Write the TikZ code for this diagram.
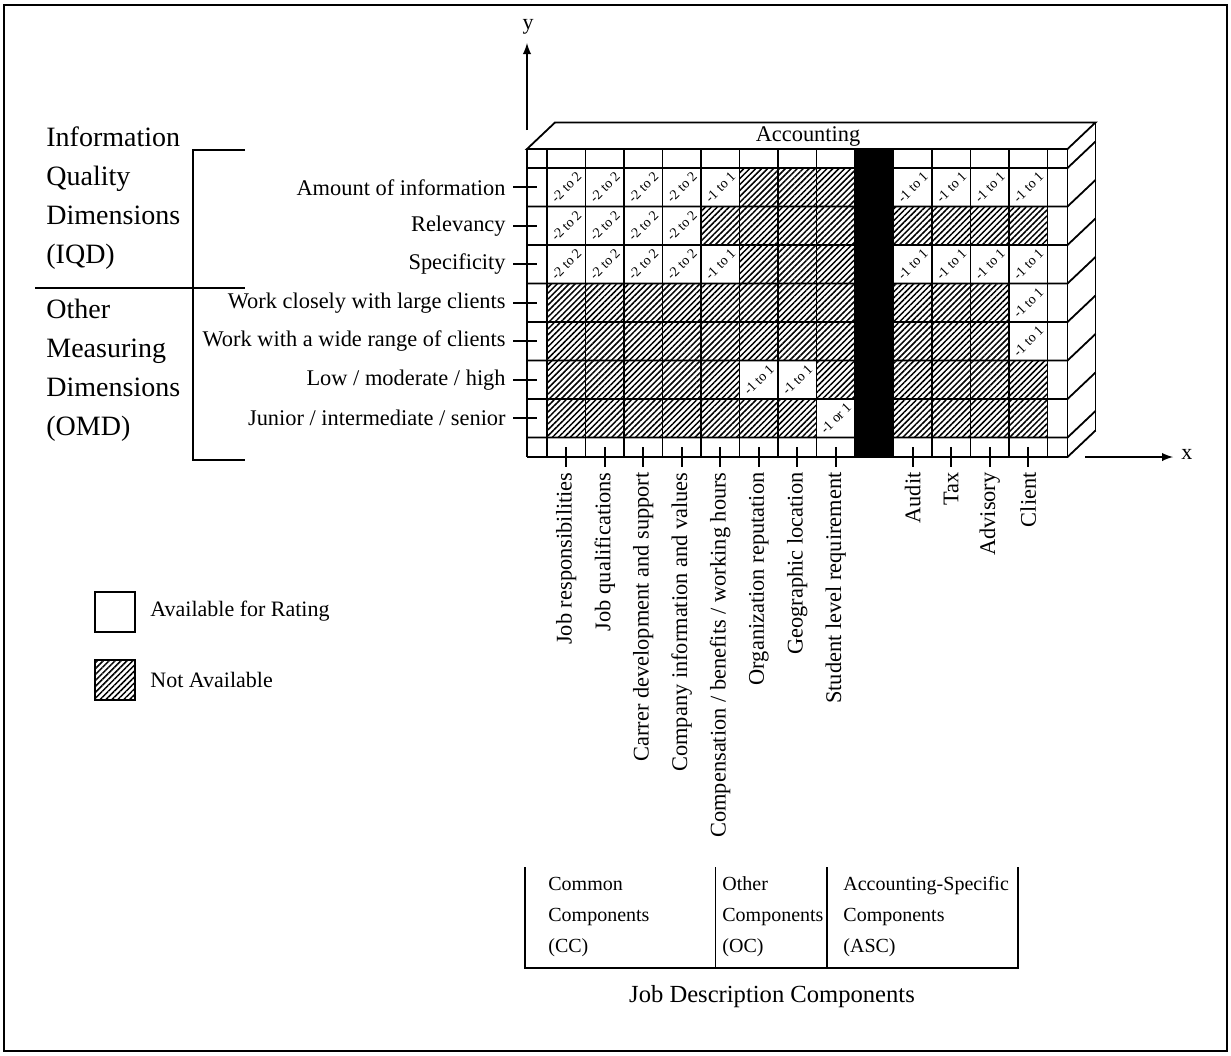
\documentclass[tikz,border=0pt]{standalone}
\usepackage{fontspec}
\setmainfont{Liberation Serif}
\usetikzlibrary{patterns.meta}
\usetikzlibrary{calc}

\tikzset{
	frame/.style={line width=1pt},
	gridline/.style={line width=0.9pt},
	hatched/.style={pattern={Lines[angle=45,distance=2.1pt,line width=0.75pt]}},
	rating/.style={font=\fontsize{7}{8}\selectfont, rotate=45, inner sep=0pt},
	rowlabel/.style={font=\fontsize{11.2}{13}\selectfont, anchor=east, inner sep=0pt},
	collabel/.style={font=\fontsize{11.2}{13}\selectfont, anchor=east, rotate=90, inner sep=0pt},
	grouplabel/.style={font=\fontsize{14}{19.5}\selectfont, anchor=west, align=left, inner sep=0pt},
	boxtext/.style={font=\fontsize{10}{15.5}\selectfont, anchor=west, align=left, inner sep=0pt},
	legendtext/.style={font=\fontsize{11}{13}\selectfont, anchor=west, inner sep=0pt},
}

\begin{document}
\begin{tikzpicture}[x=0.5pt,y=-0.5pt]
	\useasboundingbox (0,0) rectangle (1231,1055);
	\draw[frame] (4,5) rectangle (1227,1051);
	
	\def\cw{38.5} % cell size
	\def\xa{527} % left edge of front face
	\def\xb{547} % first wide column
	\def\xe{1067.5} % right edge of front face
	\def\ya{149} % top edge of front face
	\def\yb{168} % first wide row
	\def\ye{457} % bottom edge of front face
	\def\ox{28} % depth in x
	\def\oy{-26.5} % depth in y
	
	% not available cells
	\fill[hatched] (\xb,\yb) rectangle (855,437.5);
	\fill[hatched] (893.5,\yb) rectangle (1047.5,437.5);
	
	% cells available for rating
	\foreach \r/\c/\t in {1/1/{-2 to 2},1/2/{-2 to 2},1/3/{-2 to 2},1/4/{-2 to 2},1/5/{-1 to 1},
		1/10/{-1 to 1},1/11/{-1 to 1},1/12/{-1 to 1},1/13/{-1 to 1},
		2/1/{-2 to 2},2/2/{-2 to 2},2/3/{-2 to 2},2/4/{-2 to 2},
		3/1/{-2 to 2},3/2/{-2 to 2},3/3/{-2 to 2},3/4/{-2 to 2},3/5/{-1 to 1},
		3/10/{-1 to 1},3/11/{-1 to 1},3/12/{-1 to 1},3/13/{-1 to 1},
		4/13/{-1 to 1},5/13/{-1 to 1},6/6/{-1 to 1},6/7/{-1 to 1},7/8/{-1 or 1}}{
		\pgfmathsetmacro\cx{\xb+(\c-1)*\cw}
		\pgfmathsetmacro\cy{\yb+(\r-1)*\cw}
		\fill[white] (\cx,\cy) rectangle ++(\cw,\cw);
		\node[rating] (cell-\r-\c) at (\cx+\cw/2,\cy+\cw/2) {\t};
	}
	
	% black separator column
	\fill (855,\ya) rectangle (893.5,\ye);
	
	% grid lines, rows run on along the side face
	\foreach \i in {0,...,7}{
		\draw[gridline] (\xa,\yb+\i*\cw) -- (\xe,\yb+\i*\cw) -- ++(\ox,\oy);
	}
	\draw[gridline] (\xa,\ye) -- (\xe,\ye) -- ++(\ox,\oy);
	\foreach \j in {0,...,13}{
		\draw[gridline] (\xb+\j*\cw,\ya) -- (\xb+\j*\cw,\ye);
	}
	\draw[gridline] (\xa,\ya) -- (\xa,\ye);
	\draw[gridline] (\xe,\ya) -- (\xe,\ye);
	
	% top face and back edge
	\coordinate (FL) at (\xa,\ya);
	\coordinate (FR) at (\xe,\ya);
	\coordinate (BL) at (\xa+\ox,\ya+\oy);
	\coordinate (BR) at (\xe+\ox,\ya+\oy);
	\coordinate (BB) at (\xe+\ox,\ye+\oy);
	\draw[gridline] (FL) -- (BL) -- (BR) -- (FR) -- cycle;
	\draw[gridline] (BR) -- (BB);
	\node[font=\fontsize{11.2}{13}\selectfont] (acc) at (808,136) {Accounting};
	
	% axes
	\coordinate (Y0) at (\xa,130);
	\coordinate (Y1) at (\xa,43);
	\draw[gridline,-latex] (Y0) -- (Y1);
	\node[font=\fontsize{11}{13}\selectfont] (ylab) at (528,27) {y};
	\coordinate (X0) at (1085,\ye);
	\coordinate (X1) at (1173,\ye);
	\draw[gridline,-latex] (X0) -- (X1);
	\node[font=\fontsize{11}{13}\selectfont, anchor=west, inner sep=0pt] (xlab) at (1181,454) {x};
	
	% row labels with ticks
	\foreach \i/\t in {1/{Amount of information},2/{Relevancy},3/{Specificity},
		4/{Work closely with large clients},5/{Work with a wide range of clients},
		6/{Low / moderate / high},7/{Junior / intermediate / senior}}{
		\node[rowlabel] (row-\i) at (506,\yb+\i*\cw-\cw/2) {\t};
		\draw[gridline] (513,\yb+\i*\cw-\cw/2) -- (537,\yb+\i*\cw-\cw/2);
	}
	
	% column labels with ticks
	\foreach \j/\t in {1/{Job responsibilities},2/{Job qualifications},
		3/{Carrer development and support},4/{Company information and values},
		5/{Compensation / benefits / working hours},6/{Organization reputation},
		7/{Geographic location},8/{Student level requirement},
		10/{Audit},11/{Tax},12/{Advisory},13/{Client}}{
		\node[collabel] (col-\j) at (\xb+\j*\cw-\cw/2,472) {\t};
		\draw[gridline] (\xb+\j*\cw-\cw/2,447) -- (\xb+\j*\cw-\cw/2,467);
	}
	
	% dimension groups on the left
	\node[grouplabel] (iqd) at (46,198.5) {Information\\Quality\\Dimensions\\(IQD)};
	\node[grouplabel] (omd) at (46,370) {Other\\Measuring\\Dimensions\\(OMD)};
	\draw[gridline] (245,150) -- (193,150) -- (193,460) -- (245,460);
	\draw[gridline] (35,288) -- (245,288);
	
	% legend
	\draw[gridline] (95,592) rectangle (135,632);
	\node[legendtext] (avail) at (150,611) {Available for Rating};
	\draw[gridline,hatched] (95,660) rectangle (135,700);
	\node[legendtext] (notavail) at (150,680) {Not Available};
	
	% component groups at the bottom
	\draw[gridline] (525,867) -- (525,968) -- (1018,968) -- (1018,867);
	\draw[gridline] (715.5,867) -- (715.5,968);
	\draw[gridline] (827,867) -- (827,968);
	\node[boxtext] (cc) at (548,917) {Common\\Components\\(CC)};
	\node[boxtext] (oc) at (722,917) {Other\\Components\\(OC)};
	\node[boxtext] (asc) at (843,917) {Accounting-Specific\\Components\\(ASC)};
	\node[font=\fontsize{12.3}{14}\selectfont] (jdc) at (772,997) {Job Description Components};
\end{tikzpicture}
\end{document}
